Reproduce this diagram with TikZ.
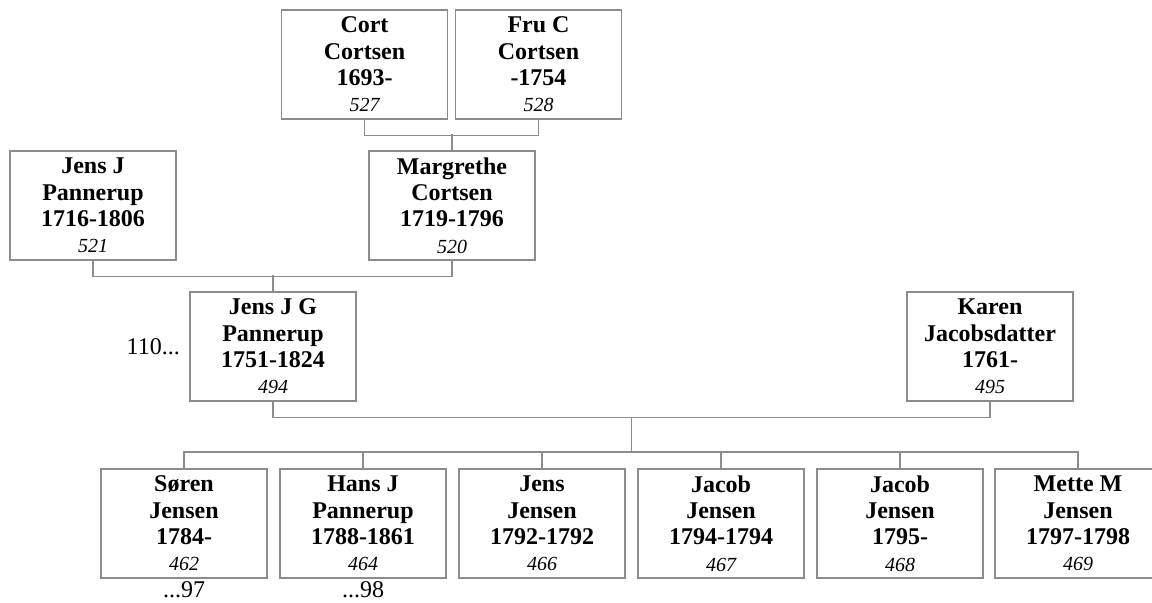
\documentclass[tikz,border=0pt]{standalone}
\usepackage{fontspec}
\setmainfont{Liberation Serif}
\usetikzlibrary{positioning,calc}
\definecolor{boxGray}{RGB}{140,140,140}
\newcommand{\famno}[1]{{\normalfont\itshape\fontsize{10}{12}\selectfont #1}}

\begin{document}
\begin{tikzpicture}[x=0.5pt,y=-0.5pt,
        person/.style={draw=boxGray,line width=0.75pt,rectangle,
          minimum width=83pt,minimum height=54.5pt,inner sep=0pt,
          align=center,font=\fontsize{12}{13.2}\selectfont\bfseries,
          execute at begin node={\rule{0pt}{9pt}}},
        link/.style={draw=boxGray,line width=0.75pt},
        note/.style={font=\fontsize{12}{14}\selectfont,inner sep=1pt}
      ]
        \useasboundingbox (0,0) rectangle (1152,603);

        % Oldeforaeldre
        \node[person] (cort) at (364.5,64.5) {Cort\\Cortsen\\1693-\\\famno{527}};
        \node[person] (fru)  at (538.5,64.5) {Fru C\\Cortsen\\-1754\\\famno{528}};

        % Bedsteforaeldre
        \node[person] (jensj) at (93,205.5) {Jens J\\Pannerup\\1716-1806\\\famno{521}};
        \node[person] (margrethe) at (452,205.5) {Margrethe\\Cortsen\\1719-1796\\\famno{520}};

        % Foraeldre
        \node[person] (jjg) at (273,346.5) {Jens J G\\Pannerup\\1751-1824\\\famno{494}};
        \node[person] (karen) at (990,346.5) {Karen\\Jacobsdatter\\1761-\\\famno{495}};
        \node[note,left=3.5pt of jjg] (jjgref) {110...};

        % Boern
        \node[person] (soeren) at (184,523.5) {Søren\\Jensen\\1784-\\\famno{462}};
        \node[person] (hans)   at (363,523.5) {Hans J\\Pannerup\\1788-1861\\\famno{464}};
        \node[person] (jens)   at (542,523.5) {Jens\\Jensen\\1792-1792\\\famno{466}};
        \node[person] (jacoba) at (721,523.5) {Jacob\\Jensen\\1794-1794\\\famno{467}};
        \node[person] (jacobb) at (900,523.5) {Jacob\\Jensen\\1795-\\\famno{468}};
        \node[person] (mette)  at (1078,523.5) {Mette M\\Jensen\\1797-1798\\\famno{469}};
        \node[note,below=0pt of soeren] (soerenref) {...97};
        \node[note,below=0pt of hans] (hansref) {...98};

        % Forbindelser
        \draw[link] (cort.south) -- ++(0,16) -| (fru.south);
        \draw[link] (margrethe.north) -- ++(0,-16);
        \draw[link] (jensj.south) -- ++(0,16) -| (margrethe.south);
        \draw[link] (jjg.north) -- ++(0,-16);
        \draw[link] (jjg.south) -- ++(0,16) -| (karen.south);
        \coordinate (famtop) at ($(jjg.south)!0.5!(karen.south)+(0,16)$);
        \coordinate (fambar) at ($(famtop)+(0,35)$);
        \draw[link] (famtop) -- (fambar);
        \draw[link] (soeren.north) -- ++(0,-16) -| (mette.north);
        \foreach \kid in {hans,jens,jacoba,jacobb}
          \draw[link] (\kid.north) -- ++(0,-16);
      \end{tikzpicture}
\end{document}
